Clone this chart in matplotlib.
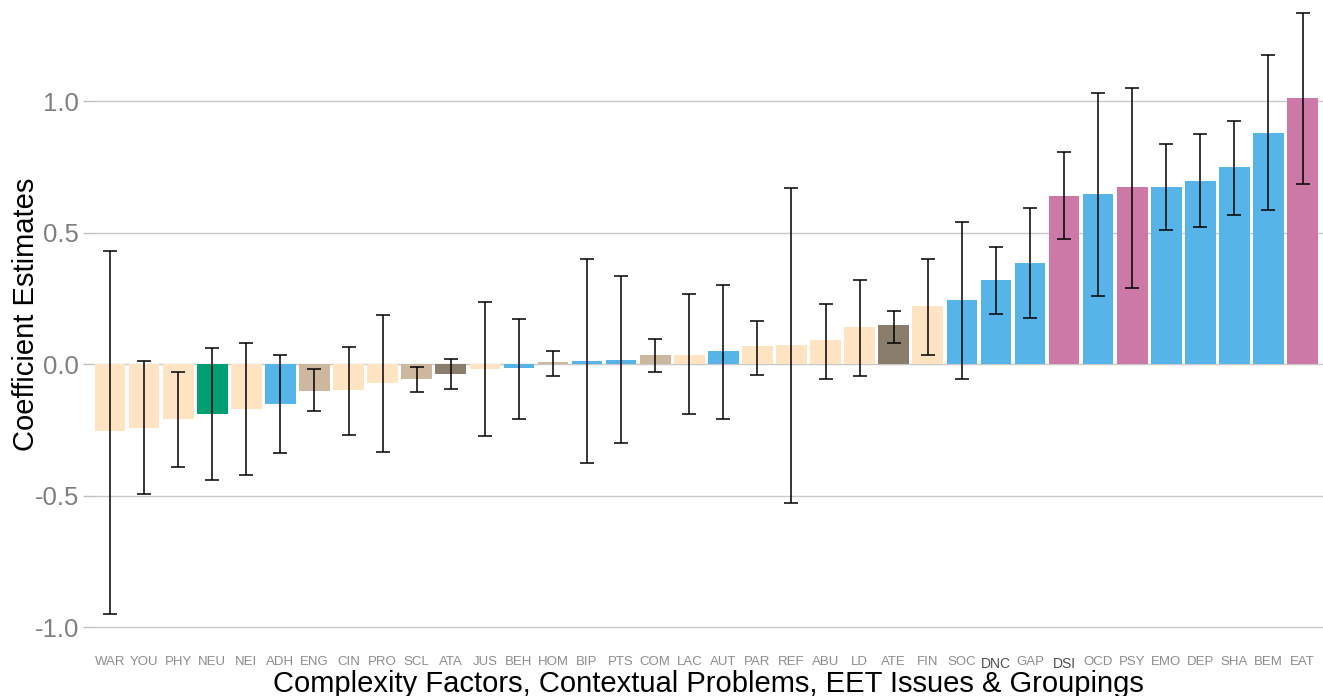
import numpy as np
import matplotlib
matplotlib.use("Agg")
import matplotlib.pyplot as plt

plt.rcParams['font.family'] = ['Liberation Sans', 'DejaVu Sans']

# data
labels = ['WAR', 'YOU', 'PHY', 'NEU', 'NEI', 'ADH', 'ENG', 'CIN', 'PRO', 'SCL',
          'ATA', 'JUS', 'BEH', 'HOM', 'BIP', 'PTS', 'COM', 'LAC', 'AUT', 'PAR',
          'REF', 'ABU', 'LD', 'ATE', 'FIN', 'SOC', 'DNC', 'GAP', 'DSI', 'OCD',
          'PSY', 'EMO', 'DEP', 'SHA', 'BEM', 'EAT']
estimates = [-0.255, -0.243, -0.209, -0.19, -0.171, -0.152, -0.103, -0.099, -0.072, -0.057,
             -0.038, -0.019, -0.015, 0.008, 0.01, 0.015, 0.035, 0.035, 0.05, 0.068,
             0.072, 0.09, 0.14, 0.148, 0.22, 0.245, 0.32, 0.385, 0.64, 0.645,
             0.672, 0.672, 0.695, 0.748, 0.88, 1.01]
upper = [0.43, 0.01, -0.03, 0.06, 0.08, 0.035, -0.02, 0.065, 0.185, -0.01,
         0.02, 0.235, 0.17, 0.05, 0.4, 0.335, 0.095, 0.265, 0.3, 0.165,
         0.67, 0.23, 0.32, 0.2, 0.4, 0.54, 0.445, 0.595, 0.805, 1.03,
         1.05, 0.835, 0.875, 0.925, 1.175, 1.335]
lower = [-0.95, -0.494, -0.39, -0.44, -0.42, -0.34, -0.18, -0.27, -0.335, -0.105,
         -0.095, -0.275, -0.21, -0.045, -0.375, -0.3, -0.03, -0.19, -0.21, -0.04,
         -0.53, -0.055, -0.045, 0.08, 0.035, -0.055, 0.19, 0.175, 0.475, 0.26,
         0.29, 0.51, 0.52, 0.565, 0.585, 0.685]
groups = ['light', 'light', 'light', 'green', 'light', 'blue', 'tan', 'light', 'light', 'tan',
          'dark', 'light', 'blue', 'tan', 'blue', 'blue', 'tan', 'light', 'blue', 'light',
          'light', 'light', 'light', 'dark', 'light', 'blue', 'blue', 'blue', 'pink', 'blue',
          'pink', 'blue', 'blue', 'blue', 'blue', 'pink']

palette = {'light': '#FFE4C4', 'tan': '#CDB79E', 'dark': '#8B7D6B',
           'blue': '#56B4E9', 'green': '#009E73', 'pink': '#CC79A7'}

x = np.arange(len(labels))
est = np.array(estimates)
yerr = np.array([est - np.array(lower), np.array(upper) - est])

fig = plt.figure(figsize=(13.23, 6.96), dpi=100)
ax = fig.add_axes([0.0703, 0.0733, 0.9297, 0.9267])

ax.bar(x, est, width=0.9, color=[palette[g] for g in groups], zorder=2)
ax.errorbar(x, est, yerr=yerr, fmt='none', ecolor='black', elinewidth=1.1,
            capsize=5, capthick=1.1, zorder=3)

ax.set_xlim(-0.5, 35.6)
ax.set_ylim(-1.068, 1.384)
ax.set_yticks([-1.0, -0.5, 0.0, 0.5, 1.0])
ax.set_yticklabels(['-1.0', '-0.5', '0.0', '0.5', '1.0'])
ax.grid(axis='y', color='#c8c8c8', linewidth=1, zorder=0)
ax.set_axisbelow(True)
for s in ax.spines.values():
    s.set_visible(False)

ax.tick_params(axis='y', colors='#c0c0c0', length=7, width=1, labelsize=18.5,
               labelcolor='#7f7f7f', pad=3)
ax.tick_params(axis='x', length=0, labelsize=9.5, labelcolor='#8c8c8c', pad=8)
ax.set_xticks(x)
ax.set_xticklabels(labels)
for t in ax.get_xticklabels():
    if t.get_text() in ('DNC', 'DSI'):
        t.set_color('#4d4d4d')
        t.set_fontsize(10)
        t.set_y(-0.002)

ax.set_ylabel('Coefficient Estimates', fontsize=21, color='black')
ax.yaxis.set_label_coords(-0.0435, 0.513)
ax.set_xlabel('Complexity Factors, Contextual Problems, EET Issues & Groupings',
              fontsize=21, color='black', labelpad=-1)

fig.savefig('out.png', dpi=100)
